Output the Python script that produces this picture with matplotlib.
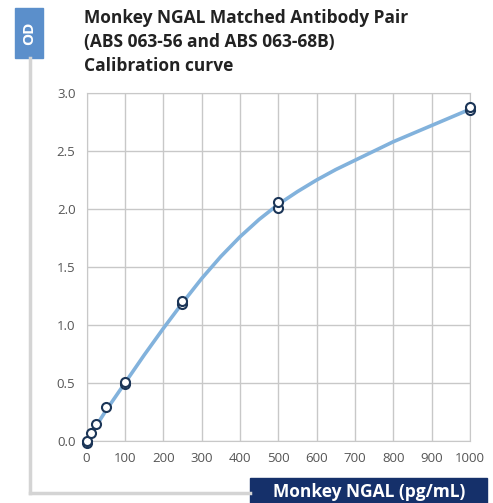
import matplotlib
matplotlib.use("Agg")
import matplotlib.pyplot as plt
from matplotlib.patches import Rectangle
from matplotlib.lines import Line2D

# standards (pg/mL) and measured OD, duplicates
conc = [0, 0, 12.5, 25, 50, 100, 100, 250, 250, 500, 500, 1000, 1000]
od = [-0.02, 0.0, 0.07, 0.15, 0.29, 0.49, 0.51, 1.18, 1.21, 2.01, 2.06, 2.85, 2.88]

# fitted curve
fit_x = [0, 50, 100, 150, 200, 250, 300, 350, 400, 450, 500, 550, 600, 650, 700, 800, 900, 1000]
fit_y = [0.0, 0.26, 0.50, 0.74, 0.97, 1.19, 1.40, 1.59, 1.76, 1.91, 2.04, 2.15, 2.25, 2.34, 2.42, 2.58, 2.72, 2.86]

xticks = list(range(0, 1001, 100))
yticks = [0.0, 0.5, 1.0, 1.5, 2.0, 2.5, 3.0]

plt.rcParams['font.family'] = ['Open Sans', 'DejaVu Sans']

W, H = 493, 503
fig = plt.figure(figsize=(W / 100, H / 100), dpi=100)
ax = fig.add_axes([86.6 / W, 62 / H, 383.4 / W, 348 / H])

ax.plot(fit_x, fit_y, color='#82b2dc', lw=2.6, zorder=2, solid_capstyle='round', solid_joinstyle='round')
ax.plot(conc, od, 'o', ms=6.5, mfc='white', mec='#1b3557', mew=1.5, zorder=3, clip_on=False)

ax.set_xlim(0, 1000)
ax.set_ylim(0, 3.0)
ax.set_xticks(xticks)
ax.set_yticks(yticks)
ax.set_yticklabels(["%.1f" % v for v in yticks])
ax.grid(True, color='#c8c8c8', lw=1)
ax.set_axisbelow(True)
for s in ax.spines.values():
    s.set_color('#c8c8c8')
ax.tick_params(length=0, labelsize=9.5, colors='#555555')
ax.tick_params(axis='x', pad=8)
ax.tick_params(axis='y', pad=8)

# outer frame
fig.add_artist(Line2D([30 / W, 30 / W], [(H - 58) / H, (H - 493) / H], color='#d4d4d4', lw=2.5))
fig.add_artist(Line2D([30 / W, 250 / W], [(H - 493) / H, (H - 493) / H], color='#d4d4d4', lw=2.5))

# OD box
fig.add_artist(Rectangle((15 / W, (H - 58) / H), 28 / W, 50 / H, color='#5b8fcb', transform=fig.transFigure))
fig.text(29 / W, (H - 33) / H, "OD", rotation=90, color='white', fontsize=11, fontweight='bold',
         ha='center', va='center')

# x label box
fig.add_artist(Rectangle((250 / W, 0), 237 / W, 25 / H, color='#15306a', transform=fig.transFigure))
fig.text(369 / W, 11 / H, "Monkey NGAL (pg/mL)", color='white', fontsize=12.5, fontweight='bold',
         ha='center', va='center')

# title
title_lines = ["Monkey NGAL Matched Antibody Pair", "(ABS 063-56 and ABS 063-68B)", "Calibration curve"]
for i, t in enumerate(title_lines):
    fig.text(84 / W, (H - 18 - 24 * i) / H, t, fontsize=12.5, fontweight='bold', color='#222222',
             ha='left', va='center')

fig.savefig('out.png', dpi=100)
